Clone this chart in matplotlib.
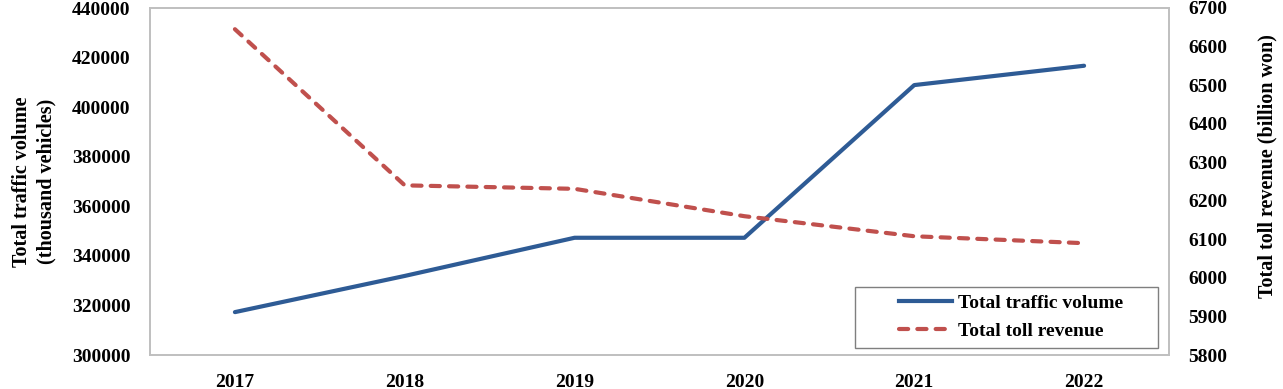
import numpy as np
import matplotlib
matplotlib.use("Agg")
import matplotlib.pyplot as plt
from matplotlib.lines import Line2D
from matplotlib.patches import Rectangle

years = ["2017", "2018", "2019", "2020", "2021", "2022"]
traffic = [317300, 331900, 347300, 347300, 408900, 416700]
revenue = [6645, 6240, 6231, 6160, 6108, 6090]

plt.rcParams['font.family'] = ['Liberation Serif', 'DejaVu Serif']
plt.rcParams['font.weight'] = 'bold'

BLUE = '#2E5B95'
RED = '#C0504D'
GRID = '#BFBFBF'
LW = 3.0
DASH = (2.2, 2.2)

fig = plt.figure(figsize=(12.83, 3.89), dpi=100)
ax = fig.add_axes([150 / 1283, 1 - 355 / 389, (1169 - 150) / 1283, (355 - 8) / 389])
ax2 = ax.twinx()

xi = np.arange(len(years))
ax.plot(xi, traffic, color=BLUE, lw=LW, solid_capstyle='round', solid_joinstyle='round')
ax2.plot(xi, revenue, color=RED, lw=LW, dashes=DASH, dash_capstyle='round', dash_joinstyle='round')

ax.set_xlim(-0.5, len(years) - 0.5)
ax.set_ylim(300000, 440000)
ax.set_yticks(np.arange(300000, 440001, 20000))
ax2.set_ylim(5800, 6700)
ax2.set_yticks(np.arange(5800, 6701, 100))
ax.set_xticks(xi)
ax.set_xticklabels(years)

for a in (ax, ax2):
    for s in a.spines.values():
        s.set_color(GRID)
        s.set_linewidth(1.2)
    a.tick_params(length=0, labelsize=14)
ax.tick_params(axis='y', pad=14)
ax.tick_params(axis='x', pad=14)
ax2.tick_params(axis='y', pad=14)
for lab in ax.get_xticklabels() + ax.get_yticklabels() + ax2.get_yticklabels():
    lab.set_fontweight('bold')

ax.set_ylabel("Total traffic volume\n(thousand vehicles)", fontsize=14.5, fontweight='bold',
              labelpad=11, linespacing=1.3)
ax2.set_ylabel("Total toll revenue (billion won)", fontsize=14.5, fontweight='bold')
ax2.yaxis.set_label_coords((1257 - 150) / 1019, (355 - 166) / 347)

# legend box
fig.patches.append(Rectangle((855 / 1283, 1 - 348 / 389), (1158 - 855) / 1283, (348 - 287) / 389,
                             transform=fig.transFigure, facecolor='white', edgecolor='#7F7F7F',
                             linewidth=1.0, zorder=5))
handles = [Line2D([], [], color=BLUE, lw=LW),
           Line2D([], [], color=RED, lw=LW, dashes=DASH, dash_capstyle='round')]
leg = fig.legend(handles, ["Total traffic volume", "Total toll revenue"],
                 loc='center left', bbox_to_anchor=(899 / 1283, 1 - 317 / 389),
                 bbox_transform=fig.transFigure, frameon=False,
                 prop={'size': 14, 'weight': 'bold'},
                 handlelength=2.75, borderpad=0, labelspacing=0.55, handletextpad=0.3,
                 borderaxespad=0)
leg.set_zorder(6)
fig.savefig("out.png", dpi=100)
